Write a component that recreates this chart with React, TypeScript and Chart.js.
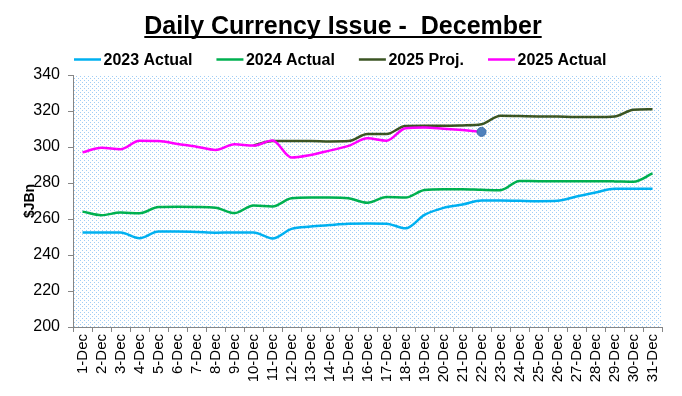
import React, { useEffect, useRef } from "react";
import { Chart, registerables } from "chart.js";

Chart.register(...registerables);

const FONT = '"Liberation Sans", Arial, sans-serif';

const TITLE = "Daily Currency Issue -  December";
const Y_TITLE = "$JBn";

const days = [
  "1-Dec", "2-Dec", "3-Dec", "4-Dec", "5-Dec", "6-Dec", "7-Dec", "8-Dec", "9-Dec", "10-Dec",
  "11-Dec", "12-Dec", "13-Dec", "14-Dec", "15-Dec", "16-Dec", "17-Dec", "18-Dec", "19-Dec", "20-Dec",
  "21-Dec", "22-Dec", "23-Dec", "24-Dec", "25-Dec", "26-Dec", "27-Dec", "28-Dec", "29-Dec", "30-Dec", "31-Dec",
];

const actual2023 = [
  252.5, 252.5, 252.5, 249.3, 253, 253, 252.8, 252.4, 252.5, 252.5,
  249.2, 254.5, 255.8, 256.6, 257.3, 257.5, 257.4, 254.8, 262.3, 266.2,
  268, 270.3, 270.3, 270.1, 269.9, 270.1, 272.5, 274.7, 276.8, 276.8, 276.8,
];

const actual2024 = [
  264.1, 262.1, 263.6, 263.2, 266.6, 266.8, 266.7, 266.3, 263.3, 267.5,
  267, 271.5, 271.9, 271.9, 271.5, 269, 272.2, 271.9, 276.1, 276.5,
  276.5, 276.2, 276, 281.1, 281, 281, 281, 281, 280.9, 280.7, 285.3,
];

const proj2025 = [
  null, null, null, null, null, null, null, null, null, 300.8,
  303.3, 303.3, 303.3, 303.1, 303.3, 307.2, 307.2, 311.7, 311.8, 311.8,
  312, 312.6, 317.4, 317.2, 317, 316.9, 316.7, 316.7, 317, 320.7, 321,
];

const actual2025 = [
  297, 299.6, 298.8, 303.5, 303.3, 301.7, 300.2, 298.4, 301.5, 300.8,
  303.6, 294.2, 295.6, 298, 300.6, 304.8, 303.5, 310.4, 310.9, 310.2,
  309.4, 308.4,
];

const yTicks = [200, 220, 240, 260, 280, 300, 320, 340];

const seriesNames = ["2023 Actual", "2024 Actual", "2025 Proj.", "2025 Actual"];
const seriesColors = ["#00B0F0", "#00B050", "#3B5523", "#FF00FF"];

const AXIS_COLOR = "#868686";

function makePattern(ctx: CanvasRenderingContext2D) {
  const c = document.createElement("canvas");
  c.width = 4;
  c.height = 4;
  const p = c.getContext("2d")!;
  p.fillStyle = "#ffffff";
  p.fillRect(0, 0, 4, 4);
  p.fillStyle = "rgb(160,205,245)";
  p.fillRect(0, 0, 1, 1);
  p.fillRect(2, 2, 1, 1);
  return ctx.createPattern(c, "repeat");
}

const backgroundPlugin = {
  id: "bgPattern",
  beforeDraw(chart: any) {
    const { ctx, chartArea, width, height } = chart;
    ctx.save();
    ctx.fillStyle = "#ffffff";
    ctx.fillRect(0, 0, width, height);
    const pat = makePattern(ctx);
    if (pat) {
      ctx.fillStyle = pat;
      ctx.fillRect(chartArea.left, chartArea.top, chartArea.right - chartArea.left, chartArea.bottom - chartArea.top);
    }
    ctx.restore();
  },
};

const titleLegendPlugin = {
  id: "titleLegend",
  afterDraw(chart: any) {
    const { ctx } = chart;
    ctx.save();
    ctx.font = `bold 25px ${FONT}`;
    ctx.fillStyle = "#000";
    ctx.textBaseline = "alphabetic";
    ctx.textAlign = "left";
    const tw = ctx.measureText(TITLE).width;
    const tx = 343 - tw / 2;
    ctx.fillText(TITLE, tx, 34);
    ctx.fillRect(tx, 36, tw, 2);

    ctx.font = `bold 16px ${FONT}`;
    const lineW = 27;
    const gapText = 2.5;
    const gapItem = 24;
    let x = 74;
    seriesNames.forEach((name, i) => {
      ctx.strokeStyle = seriesColors[i];
      ctx.lineWidth = 2.5;
      ctx.beginPath();
      ctx.moveTo(x, 59.5);
      ctx.lineTo(x + lineW, 59.5);
      ctx.stroke();
      ctx.fillStyle = "#000";
      ctx.fillText(name, x + lineW + gapText, 65);
      x += lineW + gapText + ctx.measureText(name).width + gapItem;
    });
    ctx.restore();
  },
};

export default function App() {
  const ref = useRef<HTMLCanvasElement | null>(null);

  useEffect(() => {
    document.body.style.margin = "0";
    const canvas = ref.current;
    if (!canvas) return;
    const lastIdx = actual2025.length - 1;
    const chart = new Chart(canvas, {
      type: "line",
      data: {
        labels: days,
        datasets: [
          {
            label: seriesNames[0],
            data: actual2023,
            borderColor: seriesColors[0],
            backgroundColor: seriesColors[0],
            borderWidth: 2.5,
            pointRadius: 0,
            cubicInterpolationMode: "monotone",
            order: 3,
          },
          {
            label: seriesNames[1],
            data: actual2024,
            borderColor: seriesColors[1],
            backgroundColor: seriesColors[1],
            borderWidth: 2.5,
            pointRadius: 0,
            cubicInterpolationMode: "monotone",
            order: 2,
          },
          {
            label: seriesNames[3],
            data: actual2025,
            borderColor: seriesColors[3],
            backgroundColor: seriesColors[3],
            borderWidth: 2.5,
            pointRadius: actual2025.map((_, i) => (i === lastIdx ? 4.5 : 0)),
            pointBackgroundColor: "#4F81BD",
            pointBorderColor: "#3F6FA8",
            pointBorderWidth: 1,
            cubicInterpolationMode: "monotone",
            order: 0,
          },
          {
            label: seriesNames[2],
            data: proj2025,
            borderColor: seriesColors[2],
            backgroundColor: seriesColors[2],
            borderWidth: 2.5,
            pointRadius: 0,
            cubicInterpolationMode: "monotone",
            order: 1,
          },
        ],
      },
      options: {
        responsive: false,
        animation: false,
        devicePixelRatio: 1,
        layout: { padding: { top: 75, right: 20, bottom: 0, left: 0 } },
        plugins: {
          legend: { display: false },
          title: { display: false },
          tooltip: { enabled: false },
        },
        scales: {
          x: {
            type: "category",
            offset: true,
            grid: {
              offset: true,
              drawOnChartArea: false,
              drawTicks: true,
              tickLength: 5,
              color: AXIS_COLOR,
            },
            border: { color: AXIS_COLOR, width: 1 },
            ticks: {
              autoSkip: false,
              minRotation: 90,
              maxRotation: 90,
              padding: 2,
              color: "#000",
              font: { family: FONT, size: 15 },
            },
            afterFit: (s: any) => {
              s.height = 69;
            },
          },
          y: {
            min: yTicks[0],
            max: yTicks[yTicks.length - 1],
            afterBuildTicks: (s: any) => {
              s.ticks = yTicks.map((v) => ({ value: v }));
            },
            grid: {
              drawOnChartArea: false,
              drawTicks: true,
              tickLength: 5,
              color: AXIS_COLOR,
            },
            border: { color: AXIS_COLOR, width: 1 },
            ticks: {
              padding: 8,
              color: "#000",
              font: { family: FONT, size: 16 },
            },
            title: {
              display: true,
              text: Y_TITLE,
              color: "#000",
              font: { family: FONT, size: 14, weight: "bold" },
              padding: { top: 22, bottom: 0 },
            },
            afterFit: (s: any) => {
              s.width = 73;
            },
          },
        },
      },
      plugins: [backgroundPlugin, titleLegendPlugin],
    } as any);
    return () => chart.destroy();
  }, []);

  return (
    <div style={{ width: 682, height: 396 }}>
      <canvas ref={ref} width={682} height={396} />
    </div>
  );
}
